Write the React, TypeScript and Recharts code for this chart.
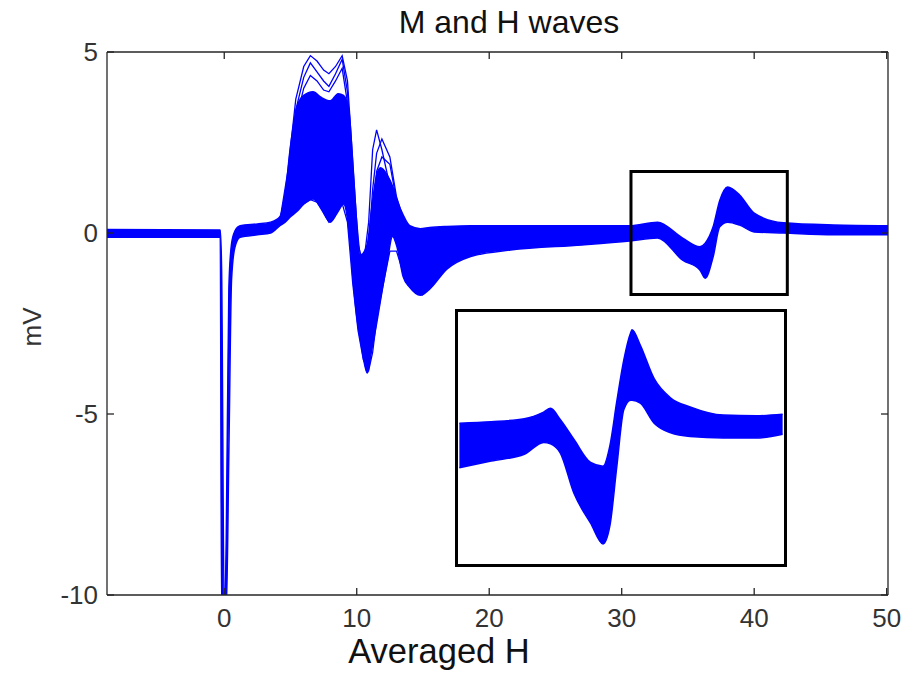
import { ComposedChart, Area, Line, XAxis, YAxis, ReferenceArea } from 'recharts';

// main band (envelope of all sweeps), x in ms, values in mV
const bandX = [-8.85, -0.3, -0.2, 0.0, 0.15, 0.35, 0.55, 0.8, 1.2, 2.5, 3.5, 4.2, 4.6, 5.0, 5.5, 6.0, 6.7, 7.3, 8.0, 8.6, 9.0, 9.4, 9.75, 10.0, 10.3, 10.8, 11.1, 11.5, 11.8, 12.3, 12.7, 13.05, 13.5, 14.0, 14.8, 15.5, 16.8, 18.6, 21.6, 27.0, 30.6, 32.7, 34.6, 35.9, 36.3, 36.9, 37.4, 38.0, 38.9, 40.0, 42.2, 46.0, 50.1];
const bandLow = [-0.12, -0.12, -10.5, -10.5, -10.5, -6.0, -1.3, -0.4, -0.12, -0.05, 0.0, 0.2, 0.3, 0.45, 0.6, 0.8, 0.94, 0.7, 0.3, 0.6, 0.8, 0.1, -1.4, -2.3, -3.0, -3.87, -3.3, -2.5, -1.85, -0.8, -0.1, -0.4, -1.2, -1.5, -1.72, -1.55, -1.0, -0.65, -0.47, -0.33, -0.22, -0.14, -0.75, -1.02, -1.25, -0.66, 0.17, 0.3, 0.22, 0.03, 0.0, -0.05, -0.05];
const bandHigh = [0.1, 0.08, -1.0, -10.5, -8.5, -1.5, -0.3, 0.05, 0.2, 0.25, 0.3, 0.45, 1.1, 2.4, 3.5, 3.8, 3.9, 3.75, 3.65, 3.85, 3.8, 3.4, 1.6, 0.3, -0.6, -0.3, 0.6, 1.6, 1.8, 1.6, 1.3, 0.9, 0.5, 0.2, 0.12, 0.15, 0.18, 0.2, 0.2, 0.2, 0.2, 0.3, -0.14, -0.38, -0.28, 0.17, 0.9, 1.27, 1.05, 0.55, 0.28, 0.22, 0.2];

// single sweeps that stick out of the band around the M wave
const traceX = [4.2, 4.8, 5.4, 6.0, 6.5, 7.0, 7.5, 7.9, 8.4, 8.9, 9.3, 9.7, 10.1, 10.5, 10.9, 11.2, 11.5, 11.9, 12.5, 13.0, 13.6, 14.3, 15.0];
const sweepBig = [0.35, 1.7, 3.7, 4.6, 4.9, 4.75, 4.5, 4.4, 4.6, 4.9, 4.2, 2.0, -0.3, -0.9, 0.3, 2.3, 2.85, 2.3, 1.3, 0.6, 0.2, 0.1, 0.1];
const sweepMid = [0.3, 1.5, 3.4, 4.3, 4.7, 4.45, 4.2, 4.05, 4.4, 4.8, 3.9, 1.6, -0.6, -1.2, -0.4, 1.2, 2.2, 2.6, 2.1, 1.0, 0.3, 0.1, 0.1];
const sweepLow = [0.3, 1.3, 3.1, 4.0, 4.35, 4.2, 3.95, 3.9, 4.2, 4.55, 3.6, 1.2, -1.0, -1.8, -1.2, 0.4, 1.7, 2.1, 1.9, 0.9, 0.2, 0.1, 0.1];
const sweepSmall = [0.22, 0.45, 0.6, 0.8, 0.92, 0.85, 0.55, 0.3, 0.5, 0.82, 0.3, -1.4, -2.7, -3.5, -3.8, -3.3, -2.4, -1.6, -0.5, -0.5, -1.2, -1.6, -1.72];

// zoomed H wave (inset)
const insetX = [30.75, 31.9, 33.1, 33.8, 34.05, 34.4, 34.9, 35.5, 35.95, 36.2, 36.45, 36.7, 36.95, 37.0, 37.3, 37.8, 38.4, 39.1, 40.3, 41.5, 42.45];
const insetHigh = [0.2, 0.22, 0.26, 0.35, 0.4, 0.25, -0.02, -0.33, -0.38, -0.1, 0.5, 1.05, 1.42, 1.46, 1.25, 0.8, 0.54, 0.42, 0.31, 0.3, 0.32];
const insetLow = [-0.4, -0.31, -0.22, -0.06, -0.08, -0.2, -0.75, -1.15, -1.43, -1.18, -0.38, 0.38, 0.51, 0.51, 0.47, 0.2, 0.07, 0.02, 0.0, 0.0, 0.05];

const xTicks = [0, 10, 20, 30, 40, 50];
const yTicks = [-10, -5, 0, 5];
const zoomBox = { x1: 30.7, x2: 42.5, y1: -1.7, y2: 1.7 };

const BLUE = '#0000ff';
const AXIS = '#262626';
const FONT = '"Liberation Sans", Arial, sans-serif';

const bandRows = bandX.map((x, i) => ({ x, range: [bandLow[i], bandHigh[i]] }));
const sweep = (ys: number[]) => traceX.map((x, i) => ({ x, y: ys[i] }));
const insetRows = insetX.map((x, i) => ({ x, range: [insetLow[i], insetHigh[i]] }));

const BottomTick = ({ x, y, payload }: any) => (
  <g>
    <line x1={x} x2={x} y1={y} y2={y - 7} stroke={AXIS} strokeWidth={1.3} />
    <text x={x} y={y + 32} textAnchor="middle" fontSize={26} fontFamily={FONT} fill="#333">{payload.value}</text>
  </g>
);
const TopTick = ({ x, y }: any) => <line x1={x} x2={x} y1={y} y2={y + 7} stroke={AXIS} strokeWidth={1.3} />;
const LeftTick = ({ x, y, payload }: any) => (
  <g>
    <line x1={x} x2={x + 7} y1={y} y2={y} stroke={AXIS} strokeWidth={1.3} />
    <text x={x - 9} y={y + 9} textAnchor="end" fontSize={26} fontFamily={FONT} fill="#333">{payload.value}</text>
  </g>
);
const RightTick = ({ x, y }: any) => <line x1={x} x2={x - 7} y1={y} y2={y} stroke={AXIS} strokeWidth={1.3} />;

export default function App() {
  return (
    <div style={{ position: 'absolute', left: 0, top: 0, width: 901, height: 674, background: '#fff' }}>
      <ComposedChart width={901} height={674} data={bandRows} margin={{ top: 51, right: 12, bottom: 39, left: 47 }}>
        <XAxis dataKey="x" type="number" domain={[-8.85, 50.1]} ticks={xTicks} allowDataOverflow height={40}
          tickSize={0} tickMargin={0} tickLine={false} stroke={AXIS} strokeWidth={1.3} tick={<BottomTick />} />
        <XAxis xAxisId="top" orientation="top" dataKey="x" type="number" domain={[-8.85, 50.1]} ticks={xTicks} allowDataOverflow height={1}
          tickSize={0} tickMargin={0} tickLine={false} stroke={AXIS} strokeWidth={1.3} tick={<TopTick />} />
        <YAxis type="number" domain={[-10, 5]} ticks={yTicks} allowDataOverflow width={60}
          tickSize={0} tickMargin={0} tickLine={false} stroke={AXIS} strokeWidth={1.3} tick={<LeftTick />} />
        <YAxis yAxisId="right" orientation="right" type="number" domain={[-10, 5]} ticks={yTicks} allowDataOverflow width={1}
          tickSize={0} tickMargin={0} tickLine={false} stroke={AXIS} strokeWidth={1.3} tick={<RightTick />} />
        <Area type="monotone" dataKey="range" stroke={BLUE} strokeWidth={1.5} fill={BLUE} fillOpacity={1} dot={false} isAnimationActive={false} />
        <Line data={sweep(sweepBig)} type="linear" dataKey="y" stroke={BLUE} strokeWidth={1.3} dot={false} isAnimationActive={false} />
        <Line data={sweep(sweepMid)} type="linear" dataKey="y" stroke={BLUE} strokeWidth={1.3} dot={false} isAnimationActive={false} />
        <Line data={sweep(sweepLow)} type="linear" dataKey="y" stroke={BLUE} strokeWidth={1.3} dot={false} isAnimationActive={false} />
        <Line data={sweep(sweepSmall)} type="linear" dataKey="y" stroke={BLUE} strokeWidth={1.3} dot={false} isAnimationActive={false} />
        <ReferenceArea {...zoomBox} fill="none" stroke="#000" strokeWidth={3} fillOpacity={0} zIndex={1000} />
      </ComposedChart>

      {/* inset with the zoomed H wave */}
      <div style={{ position: 'absolute', left: 455, top: 309, width: 332, height: 258, border: '3px solid #000', boxSizing: 'border-box', background: '#fff' }}>
        <ComposedChart width={326} height={252} data={insetRows} margin={{ top: 0, right: 0, bottom: 0, left: 0 }}>
          <XAxis dataKey="x" type="number" domain={[zoomBox.x1, zoomBox.x2]} hide />
          <YAxis type="number" domain={[zoomBox.y1, zoomBox.y2]} hide />
          <Area type="monotone" dataKey="range" stroke={BLUE} strokeWidth={1.5} fill={BLUE} fillOpacity={1} dot={false} isAnimationActive={false} />
        </ComposedChart>
      </div>

      <svg width={901} height={674} style={{ position: 'absolute', left: 0, top: 0, pointerEvents: 'none' }}>
        <text x={509} y={33} textAnchor="middle" fontSize={32} fontFamily={FONT} fill="#111">M and H waves</text>
        <text x={439} y={663} textAnchor="middle" fontSize={34.5} fontFamily={FONT} fill="#111">Averaged H</text>
        <text transform="translate(41 327) rotate(-90)" textAnchor="middle" fontSize={26} fontFamily={FONT} fill="#333">mV</text>
      </svg>
    </div>
  );
}
